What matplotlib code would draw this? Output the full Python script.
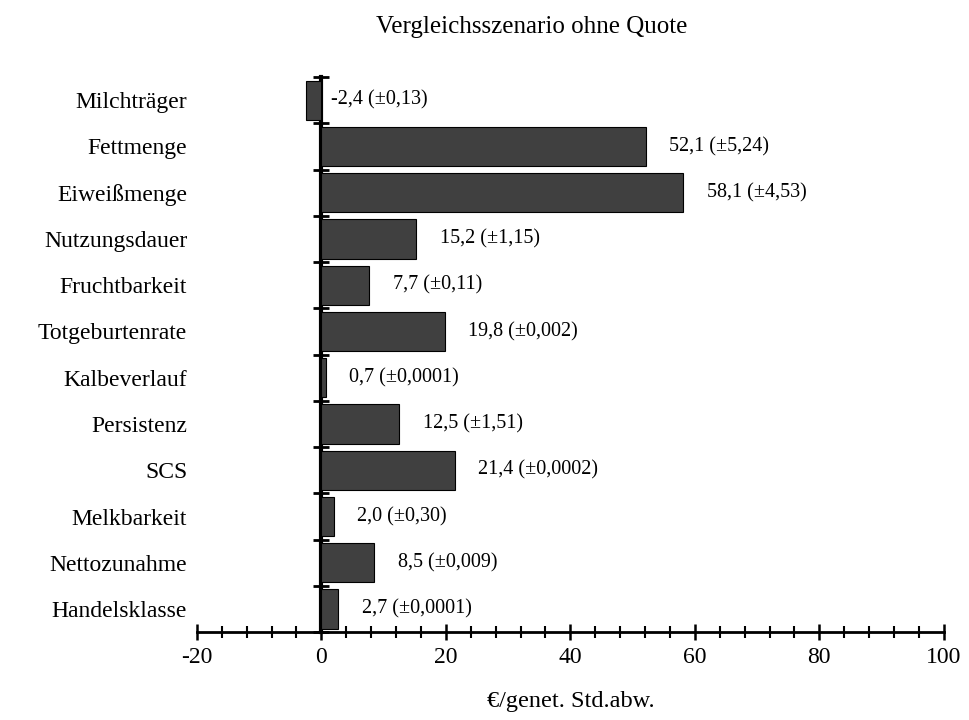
import matplotlib
matplotlib.use("Agg")
import matplotlib.pyplot as plt
from matplotlib.ticker import MultipleLocator
import numpy as np

plt.rcParams['font.family'] = ['Liberation Serif', 'DejaVu Serif']
plt.rcParams['axes.unicode_minus'] = False

categories = ["Milchträger", "Fettmenge", "Eiweißmenge", "Nutzungsdauer", "Fruchtbarkeit",
              "Totgeburtenrate", "Kalbeverlauf", "Persistenz", "SCS", "Melkbarkeit",
              "Nettozunahme", "Handelsklasse"]
values = [-2.4, 52.1, 58.1, 15.2, 7.7, 19.8, 0.7, 12.5, 21.4, 2.0, 8.5, 2.7]
errors = ["0,13", "5,24", "4,53", "1,15", "0,11", "0,002", "0,0001", "1,51", "0,0002",
          "0,30", "0,009", "0,0001"]
title = "Vergleichsszenario ohne Quote"
xlabel = "€/genet. Std.abw."

fig = plt.figure(figsize=(9.7, 7.2), dpi=100)
ax = fig.add_axes([0.203, 0.122, 0.770, 0.771])

n = len(categories)
ypos = np.arange(n)
ax.barh(ypos, values, height=0.85, color='#404040', edgecolor='black', linewidth=0.8, zorder=2)
ax.set_xlim(-20, 100)
ax.set_ylim(n - 0.5, -0.5)

for y, v, e in zip(ypos, values, errors):
    txt = f"{v:.1f}".replace('.', ',') + f" (±{e})"
    ax.annotate(txt, xy=(max(v, 0), y), xytext=(7 if v < 0 else 17, 0),
                textcoords='offset points', va='center', ha='left', fontsize=14.5)

ax.set_yticks(ypos)
ax.set_yticklabels(categories, fontsize=17)
ax.tick_params(axis='y', length=0, pad=7)

ax.xaxis.set_major_locator(MultipleLocator(20))
ax.xaxis.set_minor_locator(MultipleLocator(4))
ax.tick_params(axis='x', which='major', direction='inout', length=12, width=1.8, labelsize=17, pad=5)
ax.tick_params(axis='x', which='minor', direction='inout', length=8, width=1.5)

for s in ['top', 'right', 'left']:
    ax.spines[s].set_visible(False)
ax.spines['bottom'].set_linewidth(2)

# y axis line at x = 0
loc0 = (0 - ax.get_xlim()[0]) / (ax.get_xlim()[1] - ax.get_xlim()[0])
sec = ax.secondary_yaxis(loc0)
sec.set_yticks(np.arange(n + 1) - 0.5)
sec.set_yticklabels([])
sec.tick_params(direction='inout', length=11, width=2)
sec.spines['left'].set_linewidth(3)

fig.text(0.548, 0.962, title, fontsize=18, ha='center', va='center')
fig.text(0.588, 0.026, xlabel, fontsize=17.5, ha='center', va='center')

fig.savefig("out.png", dpi=100)
